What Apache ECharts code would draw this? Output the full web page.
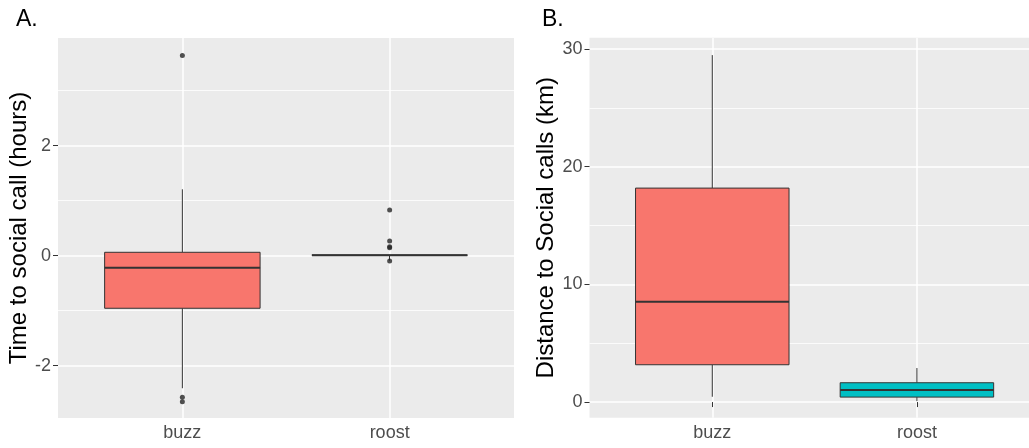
<!DOCTYPE html>
<html>
<head>
<meta charset="utf-8">
<script src="https://cdn.jsdelivr.net/npm/echarts@6/dist/echarts.min.js"></script>
<style>
html,body{margin:0;padding:0;background:#fff;}
#c{width:1029px;height:448px;}
</style>
</head>
<body>
<div id="c"></div>
<script>
// ---------- data ----------
const categories = ['buzz', 'roost'];
// box stats: [lower whisker, Q1, median, Q3, upper whisker]
const timeBuzz = [-2.41, -0.956, -0.218, 0.062, 1.207];
const timeRoost = [0.01, 0.01, 0.01, 0.01, 0.01];
const timeOutBuzz = [3.64, -2.575, -2.655];
const timeOutRoost = [0.83, 0.267, 0.164, 0.145, -0.096];
const distBuzz = [0.45, 3.17, 8.52, 18.18, 29.48];
const distRoost = [0.08, 0.42, 1.02, 1.64, 2.89];
const timeTicks = [-2, 0, 2];
const timeMinor = [-1, 1, 3];
const distTicks = [0, 10, 20, 30];
const distMinor = [5, 15, 25];
const timeRange = [-2.951, 3.958];
const distRange = [-1.33, 30.96];
const fills = ['#F8766D', '#00BFC4'];
const panelLabels = ['A.', 'B.'];
const yTitles = ['Time to social call (hours)', 'Distance to Social calls (km)'];

// ---------- helpers ----------
const FONT = 'Arial, "Liberation Sans", sans-serif';
function boxRender(params, api) {
  const x = api.value(0);
  const pts = [1, 2, 3, 4, 5].map(i => api.coord([x, api.value(i)]));
  const cx = pts[0][0];
  const half = api.size([1, 0])[0] * 0.375;
  const st = { stroke: '#333333', lineWidth: 1 };
  return {
    type: 'group',
    children: [
      { type: 'line', shape: { x1: cx, y1: pts[4][1], x2: cx, y2: pts[3][1] }, style: st },
      { type: 'line', shape: { x1: cx, y1: pts[1][1], x2: cx, y2: pts[0][1] }, style: st },
      { type: 'rect', shape: { x: cx - half, y: pts[3][1], width: 2 * half, height: pts[1][1] - pts[3][1] },
        style: { fill: fills[x], stroke: '#333333', lineWidth: 1 } },
      { type: 'line', shape: { x1: cx - half, y1: pts[2][1], x2: cx + half, y2: pts[2][1] },
        style: { stroke: '#333333', lineWidth: 2 } }
    ]
  };
}
function outPts(idx, arr) { return arr.map(v => [idx, v]); }

// panel geometry (ggplot-like: discrete expansion 0.6 units each side, 2.2 units total)
const panels = [
  { left: 58, plotRight: 514, top: 38, bottom: 418 },
  { left: 589.5, plotRight: 1039.7, top: 37.7, bottom: 417.7 }
];
const W = 1029, H = 448;
const grids = [];
panels.forEach(p => {
  const unit = (p.plotRight - p.left) / 2.2;
  grids.push({ left: p.left, right: W - p.plotRight, top: p.top, bottom: H - p.bottom,
    show: true, backgroundColor: '#EBEBEB', borderWidth: 0, containLabel: false });
  grids.push({ left: p.left + 0.6 * unit, right: W - p.plotRight + 0.6 * unit, top: p.top, bottom: H - p.bottom,
    show: false, containLabel: false });
});

const ranges = [timeRange, distRange];
const ticks = [timeTicks, distTicks];
const minors = [timeMinor, distMinor];
const nameGaps = [24, 29];

const xAxis = [], yAxis = [];
for (let i = 0; i < 2; i++) {
  // background grid
  xAxis.push({ gridIndex: 2 * i, type: 'value', min: 0, max: 1, show: false });
  yAxis.push({
    gridIndex: 2 * i, type: 'value', min: ranges[i][0], max: ranges[i][1],
    axisLine: { show: false },
    axisTick: { show: true, length: 5, lineStyle: { color: '#333333', width: 1 }, customValues: ticks[i] },
    axisLabel: { customValues: ticks[i], fontSize: 18, color: '#4D4D4D', fontFamily: FONT, margin: 7 },
    splitLine: { show: true, lineStyle: { color: '#FFFFFF', width: 1.5 } },
    name: yTitles[i], nameLocation: 'middle', nameGap: nameGaps[i],
    nameTextStyle: { fontSize: 24, color: '#000000', fontFamily: FONT }
  });
  // minor grid lines
  yAxis.push({
    gridIndex: 2 * i, type: 'value', min: ranges[i][0], max: ranges[i][1], position: 'right',
    axisLine: { show: false },
    axisTick: { show: false, customValues: minors[i] },
    axisLabel: { show: false, customValues: minors[i] },
    splitLine: { show: true, lineStyle: { color: '#FFFFFF', width: 0.8 } }
  });
  // data grid
  xAxis.push({
    gridIndex: 2 * i + 1, type: 'category', data: categories, boundaryGap: false,
    axisLine: { show: false },
    axisTick: { show: true, length: 5, lineStyle: { color: '#333333', width: 1 } },
    axisLabel: { fontSize: 18, color: '#4D4D4D', fontFamily: FONT, margin: 6 },
    splitLine: { show: true, lineStyle: { color: '#FFFFFF', width: 1.5 } }
  });
  yAxis.push({ gridIndex: 2 * i + 1, type: 'value', min: ranges[i][0], max: ranges[i][1], show: false,
    splitLine: { show: false } });
}

const boxData = [
  [[0, ...timeBuzz], [1, ...timeRoost]],
  [[0, ...distBuzz], [1, ...distRoost]]
];
const series = [];
for (let i = 0; i < 2; i++) {
  series.push({
    type: 'custom', xAxisIndex: 2 * i + 1, yAxisIndex: 3 * i + 2,
    data: boxData[i], renderItem: boxRender,
    encode: { x: 0, y: [1, 2, 3, 4, 5] }, z: 3
  });
}
series.push({
  type: 'scatter', xAxisIndex: 1, yAxisIndex: 2,
  data: outPts(0, timeOutBuzz).concat(outPts(1, timeOutRoost)),
  symbolSize: 5, itemStyle: { color: '#262626' }, z: 4
});

const option = {
  animation: false,
  textStyle: { fontFamily: FONT },
  title: [
    { text: panelLabels[0], left: 11, top: 3, textStyle: { fontSize: 23, fontWeight: 'normal', color: '#000', fontFamily: FONT } },
    { text: panelLabels[1], left: 537, top: 3, textStyle: { fontSize: 23, fontWeight: 'normal', color: '#000', fontFamily: FONT } }
  ],
  grid: grids,
  xAxis: xAxis,
  yAxis: yAxis,
  series: series
};
const chart = echarts.init(document.getElementById('c'), null, { renderer: 'canvas' });
chart.setOption(option);
</script>
</body>
</html>
